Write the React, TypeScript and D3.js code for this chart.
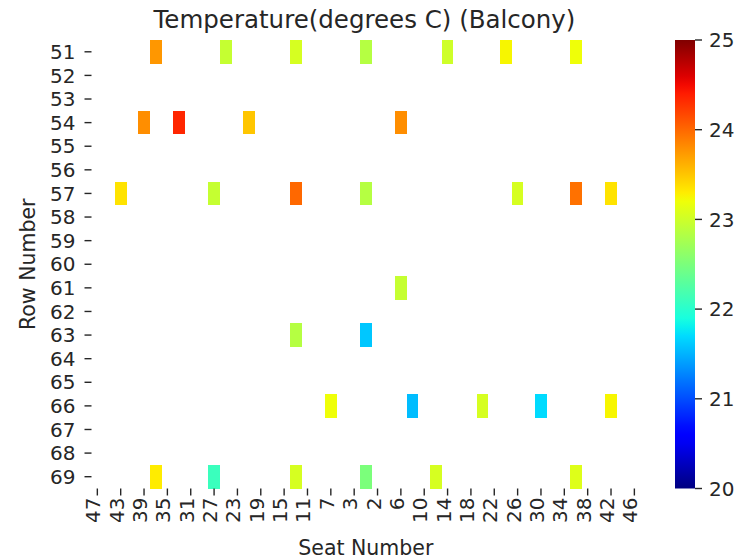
import * as d3 from 'd3';

// seat order as it appears along the x axis (odd side, then even side)
const seatOrder = [
  47, 45, 43, 41, 39, 37, 35, 33, 31, 29, 27, 25, 23, 21, 19, 17, 15, 13, 11, 9, 7, 5, 3, 1,
  2, 4, 6, 8, 10, 12, 14, 16, 18, 20, 22, 24, 26, 28, 30, 32, 34, 36, 38, 40, 42, 44, 46,
];
const rowNumbers = [51, 52, 53, 54, 55, 56, 57, 58, 59, 60, 61, 62, 63, 64, 65, 66, 67, 68, 69];
const seatTickLabels = [47, 43, 39, 35, 31, 27, 23, 19, 15, 11, 7, 3, 2, 6, 10, 14, 18, 22, 26, 30, 34, 38, 42, 46];
const colorbarTicks = [20, 21, 22, 23, 24, 25];

// [row, seat, temperature]
const readings: [number, number, number][] = [
  [51, 37, 23.75], [51, 25, 22.95], [51, 13, 23.05], [51, 1, 22.85], [51, 14, 23.0], [51, 24, 23.25], [51, 36, 23.2],
  [54, 39, 23.8], [54, 33, 24.35], [54, 21, 23.5], [54, 6, 23.8],
  [57, 43, 23.35], [57, 27, 22.95], [57, 13, 24.0], [57, 1, 22.85], [57, 26, 23.05], [57, 36, 23.95], [57, 42, 23.35],
  [61, 6, 22.95],
  [63, 13, 22.85], [63, 1, 21.6],
  [66, 7, 23.2], [66, 8, 21.55], [66, 20, 23.05], [66, 30, 21.7], [66, 42, 23.25],
  [69, 37, 23.3], [69, 27, 22.1], [69, 13, 23.05], [69, 1, 22.5], [69, 12, 23.05], [69, 36, 23.1],
];

const W = 750, H = 560;
const left = 91.5, right = 640.2, top = 40, bottom = 488.5;
const cbX = 675, cbW = 20;
const textColor = '#262626';
const font = '"DejaVu Sans", sans-serif';
const tickSize = 20;

// matplotlib "jet"
const jr = d3.scaleLinear().domain([0, 0.35, 0.66, 0.89, 1]).range([0, 0, 1, 1, 0.5]).clamp(true);
const jg = d3.scaleLinear().domain([0, 0.125, 0.375, 0.64, 0.91, 1]).range([0, 0, 1, 1, 0, 0]).clamp(true);
const jb = d3.scaleLinear().domain([0, 0.11, 0.34, 0.65, 1]).range([0.5, 1, 1, 0, 0]).clamp(true);
const jet = (t: number) =>
  d3.rgb(Math.round(jr(t) * 255), Math.round(jg(t) * 255), Math.round(jb(t) * 255)).formatHex();

export default function App() {
  const x = d3.scaleBand<number>().domain(seatOrder).range([left, right]);
  const y = d3.scaleBand<number>().domain(rowNumbers).range([top, bottom]);
  const norm = d3.scaleLinear().domain([20, 25]).range([0, 1]);
  const cbY = d3.scaleLinear().domain([20, 25]).range([bottom, top]);
  const stops = d3.range(0, 1.0001, 0.02);

  return (
    <svg width={W} height={H} style={{ display: 'block', position: 'absolute', left: 0, top: 0 }}>
      <rect width={W} height={H} fill="#fff" />
      <defs>
        <linearGradient id="jet" x1="0" y1="1" x2="0" y2="0">
          {stops.map((s) => (
            <stop key={s} offset={s} stopColor={jet(s)} />
          ))}
        </linearGradient>
      </defs>

      <text x={364.5} y={28} textAnchor="middle" fontFamily={font} fontSize={24.5} fill={textColor}>
        Temperature(degrees C) (Balcony)
      </text>

      {readings.map(([r, s, t]) => (
        <rect
          key={`${r}-${s}`}
          x={x(s)}
          y={y(r)}
          width={x.bandwidth()}
          height={y.bandwidth()}
          fill={jet(norm(t))}
          shapeRendering="crispEdges"
        />
      ))}

      {rowNumbers.map((r) => {
        const cy = (y(r) as number) + y.bandwidth() / 2;
        return (
          <g key={r}>
            <line x1={left - 7} x2={left} y1={cy} y2={cy} stroke={textColor} strokeWidth={1.4} />
            <text x={left - 16} y={cy} dy="0.36em" textAnchor="end" fontFamily={font} fontSize={tickSize} fill={textColor}>
              {r}
            </text>
          </g>
        );
      })}

      {seatTickLabels.map((s) => {
        const cx = (x(s) as number) + x.bandwidth() / 2;
        return (
          <g key={s}>
            <line x1={cx} x2={cx} y1={bottom} y2={bottom + 7} stroke={textColor} strokeWidth={1.4} />
            <text
              transform={`translate(${cx},${bottom + 9}) rotate(-90)`}
              dy="0.15em"
              textAnchor="end"
              fontFamily={font}
              fontSize={tickSize}
              fill={textColor}
            >
              {s}
            </text>
          </g>
        );
      })}

      <text x={(left + right) / 2} y={555} textAnchor="middle" fontFamily={font} fontSize={20.5} fill={textColor}>
        Seat Number
      </text>
      <text
        transform={`translate(35,${(top + bottom) / 2}) rotate(-90)`}
        textAnchor="middle"
        fontFamily={font}
        fontSize={20.5}
        fill={textColor}
      >
        Row Number
      </text>

      <rect x={cbX} y={top} width={cbW} height={bottom - top} fill="url(#jet)" />
      {colorbarTicks.map((v) => (
        <g key={v}>
          <line x1={cbX + cbW} x2={cbX + cbW + 7} y1={cbY(v)} y2={cbY(v)} stroke={textColor} strokeWidth={1.4} />
          <text x={cbX + cbW + 14} y={cbY(v)} dy="0.36em" fontFamily={font} fontSize={tickSize} fill={textColor}>
            {v}
          </text>
        </g>
      ))}
    </svg>
  );
}
